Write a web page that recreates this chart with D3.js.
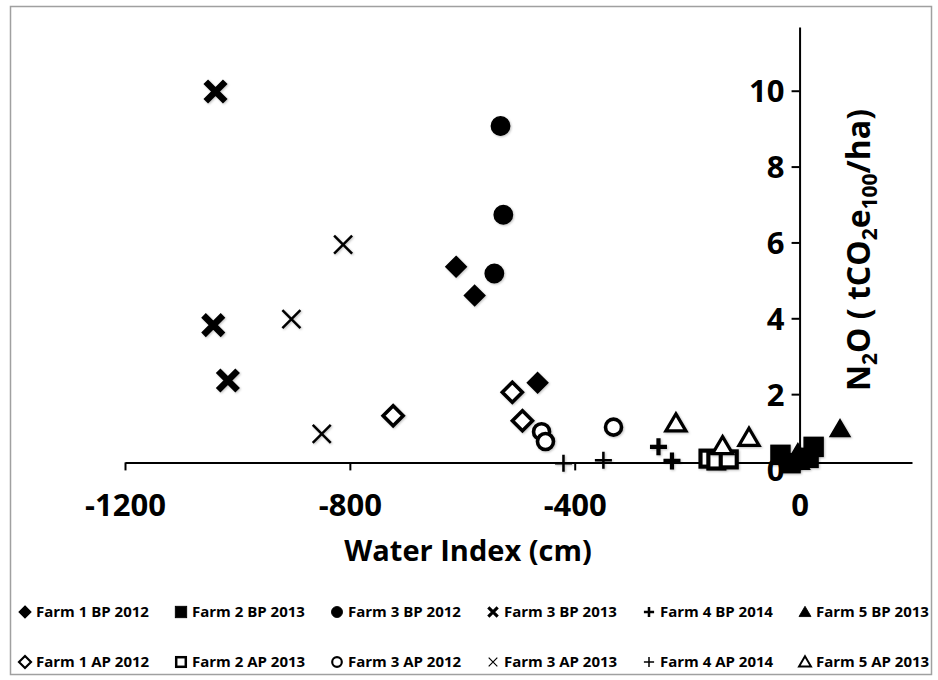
<!DOCTYPE html>
<html lang="en">
<head>
    <meta charset="UTF-8">
    <title>N2O vs Water Index</title>
    <style>
        body {
            margin: 0;
            background: #fff;
        }
        svg text {
            font-family: "Open Sans", Arial, sans-serif;
            font-weight: bold;
            fill: #000;
        }
        .axis path, .axis line {
            stroke: #000;
            stroke-width: 2px;
        }
    </style>
</head>
<body>
<svg id="chart" width="938" height="680"></svg>

<script src="https://d3js.org/d3.v7.min.js"></script>
<script>
// values: [water index (cm), N2O (tCO2e100/ha)]
const farm1BP2012 = [[-611, 5.36], [-578, 4.60], [-466, 2.30]];
const farm2BP2013 = [[-34, 0.40], [-16, 0.18], [16, 0.32], [25, 0.61]];
const farm3BP2012 = [[-532, 9.07], [-527, 6.73], [-543, 5.18]];
const farm3BP2013 = [[-1039, 9.98], [-1043, 3.82], [-1017, 2.36]];
const farm4BP2014 = [[-251, 0.61], [-227, 0.24]];
const farm5BP2013 = [[72, 1.08], [-3, 0.45], [0, 0.22]];

const farm1AP2012 = [[-723, 1.43], [-511, 2.05], [-493, 1.30]];
const farm2AP2013 = [[-162, 0.30], [-148, 0.25], [-126, 0.28]];
const farm3AP2012 = [[-459, 1.01], [-452, 0.75], [-331, 1.13]];
const farm3AP2013 = [[-812, 5.94], [-904, 3.98], [-850, 0.95]];
const farm4AP2014 = [[-420, 0.18], [-349, 0.26]];
const farm5AP2013 = [[-220, 1.23], [-90, 0.85], [-137, 0.63]];

const xTicks = [-1200, -800, -400, 0];
const yTicks = [0, 2, 4, 6, 8, 10];

// series in legend order (row 1 = BP, row 2 = AP)
const series = [
    {name: 'Farm 1 BP 2012', data: farm1BP2012, shape: 'diamond', fill: true},
    {name: 'Farm 2 BP 2013', data: farm2BP2013, shape: 'square', fill: true},
    {name: 'Farm 3 BP 2012', data: farm3BP2012, shape: 'circle', fill: true},
    {name: 'Farm 3 BP 2013', data: farm3BP2013, shape: 'xbold', fill: true},
    {name: 'Farm 4 BP 2014', data: farm4BP2014, shape: 'plusbold', fill: true},
    {name: 'Farm 5 BP 2013', data: farm5BP2013, shape: 'triangle', fill: true},
    {name: 'Farm 1 AP 2012', data: farm1AP2012, shape: 'diamond', fill: false},
    {name: 'Farm 2 AP 2013', data: farm2AP2013, shape: 'square', fill: false},
    {name: 'Farm 3 AP 2012', data: farm3AP2012, shape: 'circle', fill: false},
    {name: 'Farm 3 AP 2013', data: farm3AP2013, shape: 'x', fill: false},
    {name: 'Farm 4 AP 2014', data: farm4AP2014, shape: 'plus', fill: false},
    {name: 'Farm 5 AP 2013', data: farm5AP2013, shape: 'triangle', fill: false}
];

const svg = d3.select('#chart');

// chart frame
svg.append('rect')
    .attr('x', 10.5).attr('y', 6.5)
    .attr('width', 921).attr('height', 668)
    .attr('fill', 'none')
    .attr('stroke', '#a0a0a0')
    .attr('stroke-width', 1.5);

const x = d3.scaleLinear().domain([-1200, 200]).range([125, 912]);
const y = d3.scaleLinear().domain([0, 11.68]).range([470, 27]);

// soft grey shadow like the excel markers
const defs = svg.append('defs');
const shadow = defs.append('filter').attr('id', 'shadow')
    .attr('x', '-50%').attr('y', '-50%').attr('width', '200%').attr('height', '200%');
shadow.append('feDropShadow')
    .attr('dx', 1).attr('dy', 1).attr('stdDeviation', 1.2)
    .attr('flood-color', '#000').attr('flood-opacity', 0.25);

// x axis crosses the value axis a little above zero
const xAxisY = y(0.2);
const xAxis = svg.append('g')
    .attr('class', 'axis')
    .attr('transform', `translate(0,${xAxisY})`)
    .call(d3.axisBottom(x).tickValues(xTicks).tickSize(8).tickSizeOuter(0).tickFormat(d => String(d)));
xAxis.selectAll('text')
    .attr('y', 43)
    .attr('dy', '0.35em')
    .style('font-size', '31px');
xAxis.selectAll('.tick').filter(d => d === 0).select('line').remove();

const yAxis = svg.append('g')
    .attr('class', 'axis')
    .attr('transform', `translate(${x(0)},0)`)
    .call(d3.axisLeft(y).tickValues(yTicks).tickSize(8).tickSizeOuter(0));
yAxis.selectAll('text')
    .attr('x', -15)
    .attr('dy', '0.35em')
    .style('font-size', '31px');

// axis titles
svg.append('text')
    .attr('x', 468).attr('y', 561)
    .attr('text-anchor', 'middle')
    .style('font-size', '29px')
    .text('Water Index (cm)');

const yTitle = svg.append('text')
    .attr('transform', 'translate(870,250) rotate(-90)')
    .attr('text-anchor', 'middle')
    .style('font-size', '32px');
const sub = (t) => {
    yTitle.append('tspan').attr('dy', 7).style('font-size', '21px').text(t);
};
yTitle.append('tspan').text('N');
sub('2');
yTitle.append('tspan').attr('dy', -7).text('O  ( tCO');
sub('2');
yTitle.append('tspan').attr('dy', -7).text('e');
sub('100');
yTitle.append('tspan').attr('dy', -7).text('/ha)');

// draws a marker of the given shape into g, r = half size
function drawMarker(g, shape, filled, r) {
    const sw = Math.max(1.6, r * 0.36);
    if (shape === 'diamond') {
        g.append('path')
            .attr('d', `M0,${-r}L${r},0L0,${r}L${-r},0Z`)
            .attr('fill', filled ? '#000' : '#fff')
            .attr('stroke', '#000').attr('stroke-width', filled ? sw * 0.5 : sw);
    } else if (shape === 'square') {
        const s = filled ? r * 0.95 : r * 0.8;
        g.append('rect')
            .attr('x', -s).attr('y', -s).attr('width', 2 * s).attr('height', 2 * s)
            .attr('fill', filled ? '#000' : '#fff')
            .attr('stroke', '#000').attr('stroke-width', filled ? sw * 0.4 : sw * 1.15);
    } else if (shape === 'circle') {
        g.append('circle')
            .attr('r', filled ? r * 0.92 : r * 0.8)
            .attr('fill', filled ? '#000' : '#fff')
            .attr('stroke', '#000').attr('stroke-width', filled ? sw * 0.4 : sw);
    } else if (shape === 'triangle') {
        const h = r * 0.95;
        g.append('path')
            .attr('d', `M0,${-h}L${r},${h * 0.8}L${-r},${h * 0.8}Z`)
            .attr('fill', filled ? '#000' : '#fff')
            .attr('stroke', '#000').attr('stroke-width', filled ? sw * 0.4 : sw * 0.9)
            .attr('stroke-linejoin', 'miter');
    } else if (shape === 'x' || shape === 'xbold') {
        const k = shape === 'xbold' ? r * 0.78 : r * 0.72;
        g.append('path')
            .attr('d', `M${-k},${-k}L${k},${k}M${-k},${k}L${k},${-k}`)
            .attr('fill', 'none')
            .attr('stroke', '#000')
            .attr('stroke-width', shape === 'xbold' ? r * 0.52 : sw * 0.55);
    } else if (shape === 'plus' || shape === 'plusbold') {
        const k = r * 0.85;
        g.append('path')
            .attr('d', `M${-k},0L${k},0M0,${-k}L0,${k}`)
            .attr('fill', 'none')
            .attr('stroke', '#000')
            .attr('stroke-width', shape === 'plusbold' ? r * 0.42 : sw * 0.7);
    }
}

// points
const points = svg.append('g');
series.forEach(s => {
    s.data.forEach(d => {
        const g = points.append('g')
            .attr('transform', `translate(${x(d[0])},${y(d[1])})`)
            .attr('filter', 'url(#shadow)');
        drawMarker(g, s.shape, s.fill, s.shape.startsWith('x') ? 12.5 : 10);
    });
});

// legend, two rows of six
const legendX = d3.range(6).map(i => 25 + i * 156);
const legendY = [612, 662];
const legend = svg.append('g');
series.forEach((s, i) => {
    const lx = legendX[i % 6];
    const ly = legendY[Math.floor(i / 6)];
    const g = legend.append('g').attr('transform', `translate(${lx},${ly})`);
    drawMarker(g, s.shape, s.fill, 6);
    g.append('text')
        .attr('x', 11)
        .attr('dy', '0.35em')
        .style('font-size', '15px')
        .text(s.name);
});
</script>
</body>
</html>
